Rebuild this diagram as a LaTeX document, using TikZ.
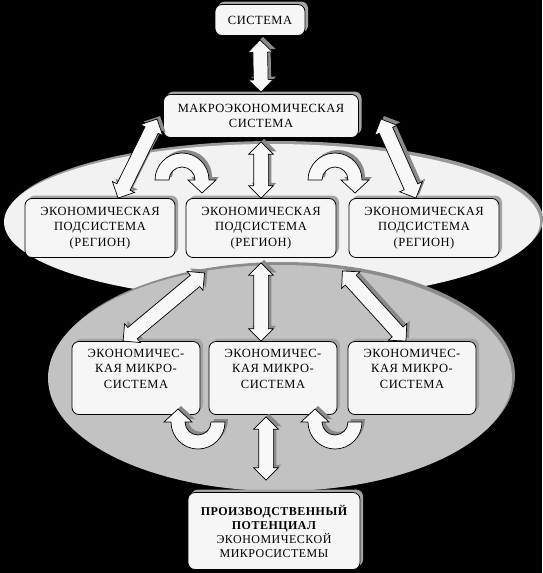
\documentclass[tikz,border=0pt]{standalone}
\usepackage{fontspec}
\setmainfont{Liberation Serif}
\newfontfamily\schemefont[LetterSpace=4]{Liberation Serif}
\usetikzlibrary{shapes.geometric,shapes.arrows,calc,shadows}
\definecolor{boxfill}{HTML}{F6F6F6}
\definecolor{boxshade}{HTML}{A4A4A4}
\definecolor{upperfill}{HTML}{F2F2F2}
\definecolor{uppershade}{HTML}{9A9A9A}
\definecolor{lowerfill}{HTML}{C2C2C2}
\definecolor{lowershade}{HTML}{8C8C8C}
\definecolor{arrowfill}{HTML}{F8F8F8}
\definecolor{arrowshade}{HTML}{8A8A8A}
\tikzset{schemebox/.style={draw, line width=0.8pt, rounded corners=7pt, fill=boxfill,
  align=center, inner sep=2pt, font=\schemefont\fontsize{12.5}{15.5}\selectfont,
  drop shadow={shadow xshift=3pt, shadow yshift=3pt, fill=boxshade, opacity=1}},
  zone/.style={ellipse, inner sep=0pt},
  fatarrow/.style={double arrow, draw, line width=0.7pt, fill=arrowfill, inner xsep=0pt,
  inner ysep=7pt, minimum width=24pt, double arrow head extend=5pt,
  drop shadow={shadow xshift=3pt, shadow yshift=3pt, fill=arrowshade, opacity=1}},
  pics/turnarrow/.style={code={
    \filldraw[line width=0.7pt, fill=arrowfill,
      drop shadow={shadow xshift=3pt, shadow yshift=3pt, fill=arrowshade, opacity=1}]
      (-27,0) arc[start angle=180, end angle=360, radius=27] -- (34,0) -- (20,13)
      -- (6,0) -- (13,0) arc[start angle=360, end angle=180, radius=13] -- cycle;}}}
\newcommand{\biarrow}[2]{%
  \path let \p1=($(#2)-(#1)$), \n1={veclen(\x1,\y1)} in
    (#1) -- (#2) node[fatarrow, midway, sloped, minimum height=\n1] {};}

\begin{document}
\begin{tikzpicture}[x=1pt, y=-1pt]
  \useasboundingbox[fill=black] (0,0) rectangle (542,573);
  % two zones
  \node[zone, fill=upperfill, minimum width=536pt, minimum height=156pt,
    drop shadow={shadow xshift=3pt, shadow yshift=3pt, fill=uppershade, opacity=1}] (upperzone) at (272,222) {};
  \node[zone, fill=lowerfill, minimum width=464pt, minimum height=226pt,
    drop shadow={shadow xshift=3pt, shadow yshift=3pt, fill=lowershade, opacity=1}] (lowerzone) at (280,378) {};

  \node[schemebox, minimum width=90pt, minimum height=31pt] (system) at (260,20) {СИСТЕМА};
  \node[schemebox, minimum width=195pt, minimum height=43pt] (macro) at (261,116) {МАКРОЭКОНОМИЧЕСКАЯ\\СИСТЕМА};

  \node[schemebox, minimum width=150pt, minimum height=59pt] (region1) at (100,228) {ЭКОНОМИЧЕСКАЯ\\ПОДСИСТЕМА\\(РЕГИОН)};
  \node[schemebox, minimum width=150pt, minimum height=59pt] (region2) at (261,228) {ЭКОНОМИЧЕСКАЯ\\ПОДСИСТЕМА\\(РЕГИОН)};
  \node[schemebox, minimum width=150pt, minimum height=59pt] (region3) at (424,228) {ЭКОНОМИЧЕСКАЯ\\ПОДСИСТЕМА\\(РЕГИОН)};

  \node[schemebox, minimum width=128pt, minimum height=73pt, text depth=19pt] (micro1) at (136,378) {ЭКОНОМИЧЕС-\\КАЯ МИКРО-\\СИСТЕМА};
  \node[schemebox, minimum width=128pt, minimum height=73pt, text depth=19pt] (micro2) at (273,378) {ЭКОНОМИЧЕС-\\КАЯ МИКРО-\\СИСТЕМА};
  \node[schemebox, minimum width=128pt, minimum height=73pt, text depth=19pt] (micro3) at (412,378) {ЭКОНОМИЧЕС-\\КАЯ МИКРО-\\СИСТЕМА};

  \node[schemebox, minimum width=172pt, minimum height=77pt, font=\schemefont\fontsize{12}{14}\selectfont] (potential) at (274,531)
    {\bfseries ПРОИЗВОДСТВЕННЫЙ\\\bfseries ПОТЕНЦИАЛ\\ЭКОНОМИЧЕСКОЙ\\МИКРОСИСТЕМЫ};

  % links
  \biarrow{[yshift=-4pt]system.south}{[yshift=2pt]macro.north}
  \biarrow{[xshift=-6pt,yshift=-3pt]macro.west}{[xshift=18pt]region1.north}
  \biarrow{[yshift=-4pt]macro.south}{region2.north}
  \biarrow{[xshift=22pt,yshift=-3pt]macro.east}{[xshift=-8pt]region3.north}
  \biarrow{[xshift=19pt,yshift=-15pt]region2.south west}{[xshift=-13pt]micro1.north}
  \biarrow{[yshift=-5pt]region2.south}{[xshift=-12pt]micro2.north}
  \biarrow{[xshift=6pt,yshift=-13pt]region2.south east}{[xshift=-6pt]micro3.north}
  \biarrow{[xshift=-7pt,yshift=-2pt]micro2.south}{[xshift=-8pt,yshift=12pt]potential.north}

  \pic (turnup1) at (182,180) {turnarrow};
  \pic (turnup2) at (335,180) {turnarrow};
  \pic[rotate=180] (turndown1) at (198,422) {turnarrow};
  \pic[rotate=180] (turndown2) at (335,422) {turnarrow};
\end{tikzpicture}
\end{document}
